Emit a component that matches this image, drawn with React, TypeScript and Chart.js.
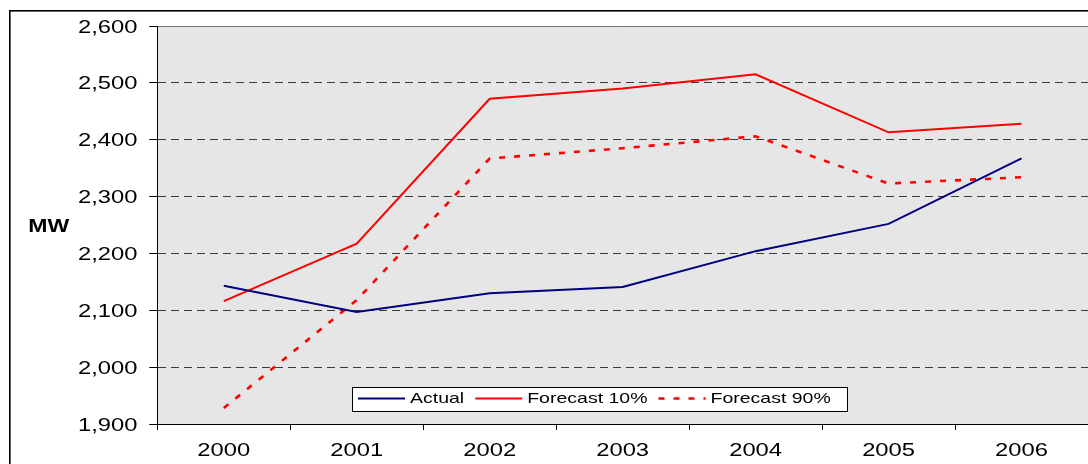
import React, { useEffect, useRef } from "react";
import { Chart, registerables } from "chart.js";

Chart.register(...registerables);

// Years on the category axis
const years = ["2000", "2001", "2002", "2003", "2004", "2005", "2006"];

// Peak demand in MW
const actual = [2143, 2097, 2130, 2141, 2204, 2252, 2367];
const forecast10 = [2116, 2217, 2472, 2490, 2515, 2413, 2428];
const forecast90 = [1928, 2118, 2367, 2385, 2406, 2323, 2334];

// Value axis
const yMin = 1900;
const yMax = 2600;
const yStep = 100;
const yAxisTitle = "MW";

const seriesNames = ["Actual", "Forecast 10%", "Forecast 90%"];

const FONT = "'Liberation Sans', Arial, sans-serif";
const STRETCH = 1.32;

// Draws text widened horizontally, the way the original chart renders it.
function wideText(
  ctx: CanvasRenderingContext2D,
  text: string,
  x: number,
  y: number,
  align: CanvasTextAlign,
  font: string,
  sx = STRETCH
) {
  ctx.save();
  ctx.font = font;
  ctx.textAlign = align;
  ctx.textBaseline = "alphabetic";
  ctx.fillStyle = "#000";
  ctx.translate(x, y);
  ctx.scale(sx, 1);
  ctx.fillText(text, 0, 0);
  ctx.restore();
}

const framePlugin = {
  id: "frame",
  beforeDraw(chart: any) {
    const { ctx, chartArea, width, height } = chart;
    ctx.save();
    ctx.fillStyle = "#fff";
    ctx.fillRect(0, 0, width, height);
    // outer chart border
    ctx.fillStyle = "#000";
    ctx.fillRect(9, 10, width - 9, 1.6);
    ctx.fillRect(9, 10, 1.6, height - 10);
    // plot area
    ctx.fillStyle = "#e6e6e6";
    ctx.fillRect(
      chartArea.left,
      chartArea.top,
      chartArea.right - chartArea.left,
      chartArea.bottom - chartArea.top
    );
    ctx.strokeStyle = "#777";
    ctx.lineWidth = 1;
    ctx.beginPath();
    ctx.moveTo(chartArea.left, Math.round(chartArea.top) + 0.5);
    ctx.lineTo(chartArea.right, Math.round(chartArea.top) + 0.5);
    ctx.stroke();
    ctx.restore();
  },
  afterDraw(chart: any) {
    const { ctx } = chart;
    const xs = chart.scales.x;
    const ys = chart.scales.y;
    const tickFont = `18px ${FONT}`;

    // value axis labels
    ys.ticks.forEach((t: any) => {
      const py = ys.getPixelForValue(t.value);
      wideText(ctx, Number(t.value).toLocaleString("en-US"), 137.5, py + 6.5, "right", tickFont);
    });
    // category labels
    years.forEach((y, i) => {
      wideText(ctx, y, xs.getPixelForValue(i), 456, "center", tickFont);
    });
    // axis title
    wideText(ctx, yAxisTitle, 48.7, 231.7, "center", `bold 18px ${FONT}`, 1.28);

    // legend box
    const legFont = `15px ${FONT}`;
    const boxL = 352;
    const boxT = 387;
    const boxR = 847;
    const boxB = 411;
    ctx.save();
    ctx.fillStyle = "#fff";
    ctx.fillRect(boxL, boxT, boxR - boxL, boxB - boxT);
    ctx.strokeStyle = "#000";
    ctx.lineWidth = 1;
    ctx.strokeRect(boxL + 0.5, boxT + 0.5, boxR - boxL, boxB - boxT);
    ctx.restore();

    let x = 358;
    const lineY = 398.5;
    chart.data.datasets.forEach((ds: any) => {
      ctx.save();
      ctx.strokeStyle = ds.borderColor;
      ctx.lineWidth = ds.borderWidth;
      ctx.setLineDash(ds.borderDash || []);
      ctx.beginPath();
      ctx.moveTo(x, lineY);
      ctx.lineTo(x + 47, lineY);
      ctx.stroke();
      ctx.restore();
      x += 52;
      ctx.save();
      ctx.font = legFont;
      const w = ctx.measureText(ds.label).width * 1.3;
      ctx.restore();
      wideText(ctx, ds.label, x, 403.3, "left", legFont, 1.3);
      x += w + 11;
    });
  },
};

export default function App() {
  const ref = useRef<HTMLCanvasElement>(null);

  useEffect(() => {
    if (!ref.current) return;
    const chart = new Chart(ref.current, {
      type: "line",
      data: {
        labels: years,
        datasets: [
          {
            label: seriesNames[0],
            data: actual,
            borderColor: "#000080",
            borderWidth: 2,
            pointRadius: 0,
            tension: 0,
          },
          {
            label: seriesNames[1],
            data: forecast10,
            borderColor: "#ff0000",
            borderWidth: 2,
            pointRadius: 0,
            tension: 0,
          },
          {
            label: seriesNames[2],
            data: forecast90,
            borderColor: "#ff0000",
            borderWidth: 2.6,
            borderDash: [6, 9],
            pointRadius: 0,
            tension: 0,
          },
        ],
      },
      options: {
        responsive: false,
        animation: false,
        events: [],
        layout: { padding: { left: 149.3, top: 26, bottom: 34, right: -2.7 } },
        plugins: {
          legend: { display: false },
          tooltip: { enabled: false },
          title: { display: false },
        },
        scales: {
          x: {
            type: "category",
            offset: true,
            ticks: { display: false },
            grid: {
              offset: true,
              drawOnChartArea: false,
              drawTicks: true,
              tickLength: 6,
              tickColor: "#000",
              tickWidth: 1,
            },
            border: { color: "#000", width: 1 },
          },
          y: {
            min: yMin,
            max: yMax,
            ticks: { display: false, stepSize: yStep },
            grid: {
              color: (c: any) =>
                c.tick && (c.tick.value === yMin || c.tick.value === yMax)
                  ? "rgba(0,0,0,0)"
                  : "#3a3a3a",
              lineWidth: 1,
              drawTicks: true,
              tickLength: 8,
              tickColor: "#000",
              tickWidth: 1,
              tickBorderDash: [],
            },
            border: { color: "#000", width: 1, dash: [8, 5] },
          },
        },
      },
      plugins: [framePlugin],
    });
    return () => chart.destroy();
  }, []);

  return (
    <div style={{ position: "fixed", left: 0, top: 0, width: 1088, height: 464 }}>
      <canvas ref={ref} width={1088} height={464} />
    </div>
  );
}
